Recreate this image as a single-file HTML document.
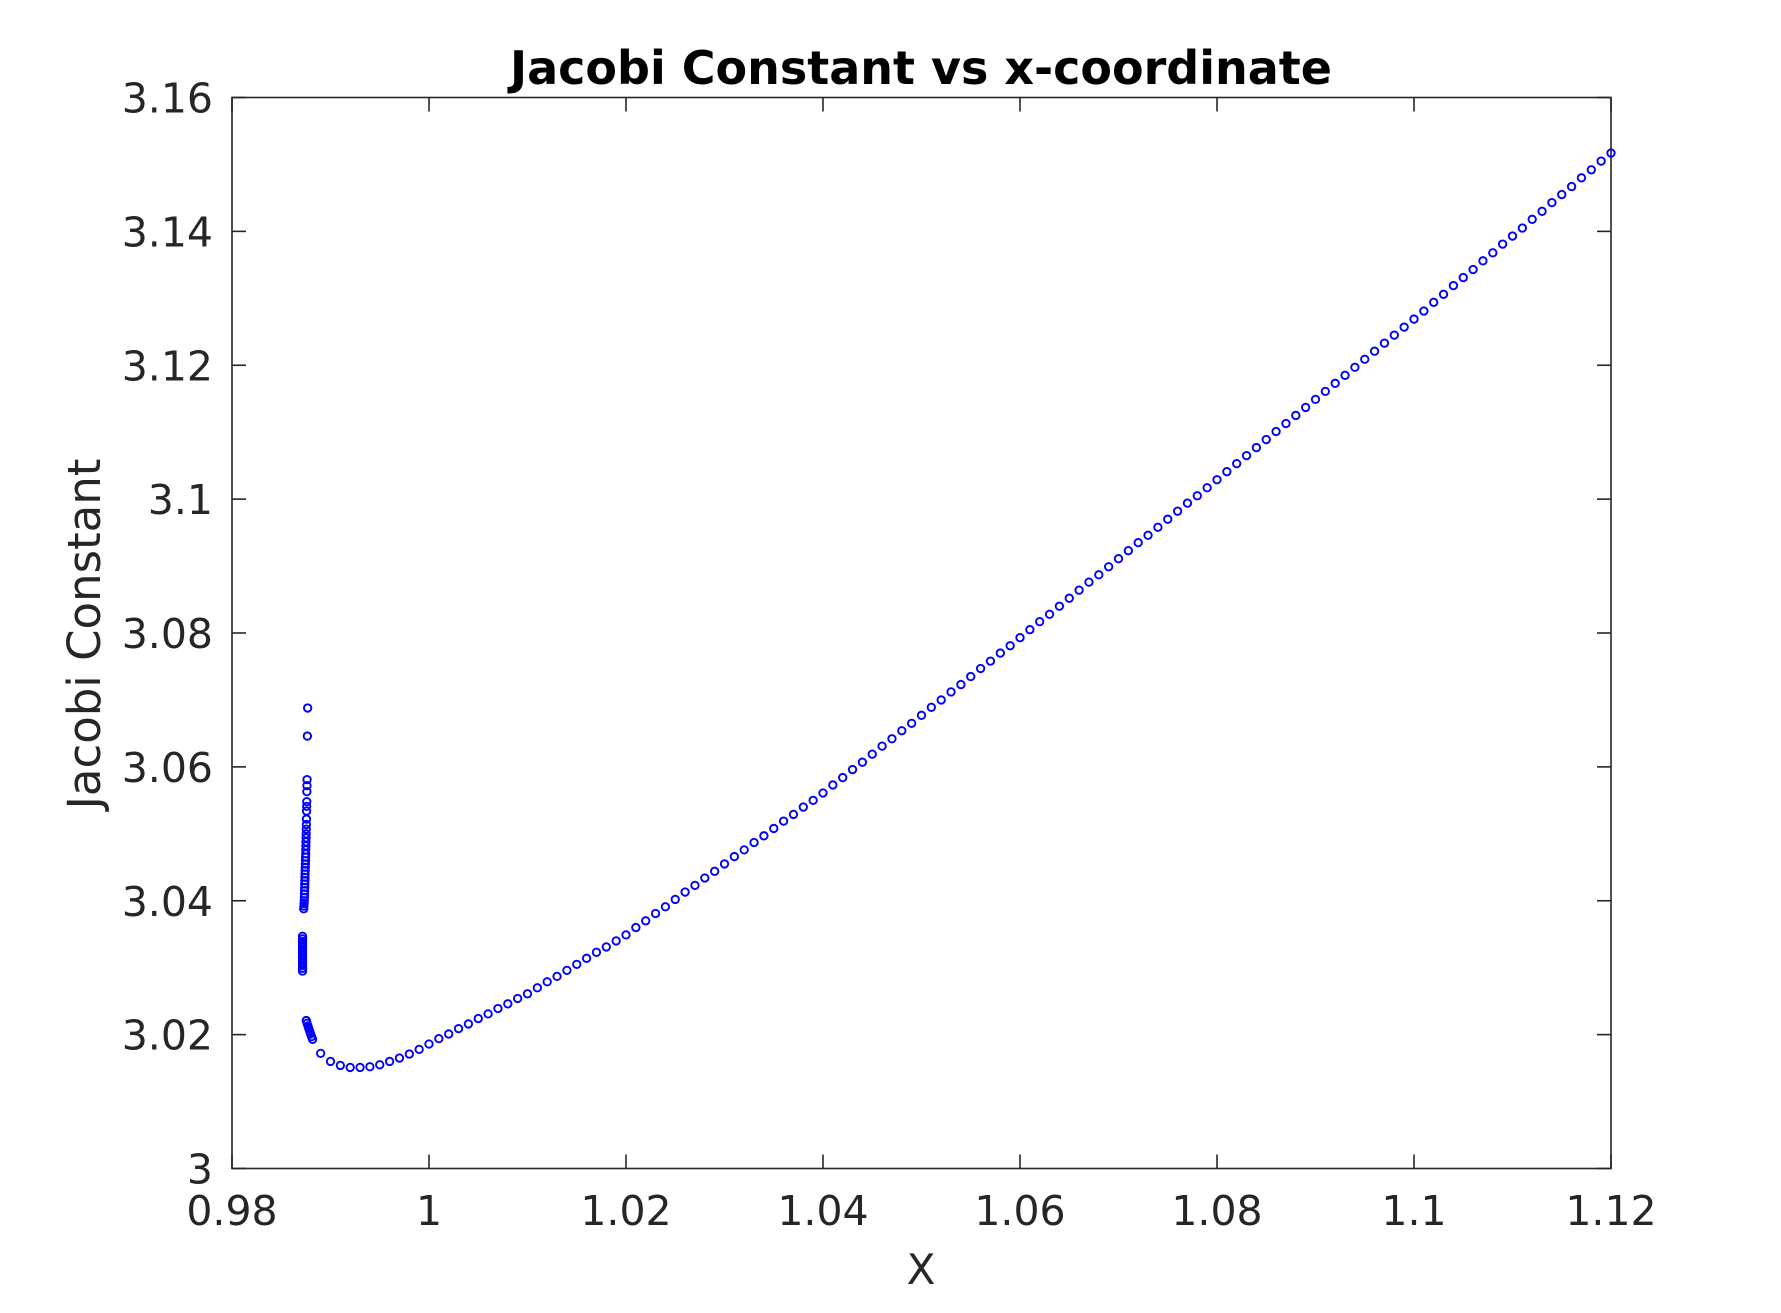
<!DOCTYPE html>
<html><head><meta charset="utf-8"><style>
html,body{margin:0;padding:0;background:#fff;}
svg{display:block;font-family:"DejaVu Sans","Liberation Sans",sans-serif;}
</style></head><body>
<svg id="chart" width="1781" height="1313" viewBox="0 0 1781 1313" xmlns="http://www.w3.org/2000/svg">
<rect width="1781" height="1313" fill="#fff"/>
<text x="921" y="84" text-anchor="middle" font-size="46" font-weight="bold" fill="#000">Jacobi Constant vs x-coordinate</text>
<text x="921" y="1284" text-anchor="middle" font-size="42" fill="#262626">X</text>
<text transform="translate(100,634) rotate(-90)" text-anchor="middle" font-size="45" fill="#262626">Jacobi Constant</text>
<g id="axes"></g>
<g id="marks"></g>
</svg>
<script>
const xTicks = [0.98, 1.0, 1.02, 1.04, 1.06, 1.08, 1.1, 1.12];
const xTickLabels = ["0.98", "1", "1.02", "1.04", "1.06", "1.08", "1.1", "1.12"];
const yTicks = [3.0, 3.02, 3.04, 3.06, 3.08, 3.1, 3.12, 3.14, 3.16];
const yTickLabels = ["3", "3.02", "3.04", "3.06", "3.08", "3.1", "3.12", "3.14", "3.16"];

const clusterX = [0.98768,0.98765,
0.98762,0.98761,0.98760,0.98759,0.98758,0.98757,0.98756,0.98755,0.98754,0.98753,0.98752,0.98751,0.98750,0.98749,0.98748,0.98747,0.98746,0.98745,0.98744,0.98743,0.98742,0.98741,0.98740,0.98739,0.98738,0.98737,0.98736,0.98735,0.98734,0.98732,0.98730,0.98728,
0.98716,0.98716,0.98716,0.98716,0.98716,0.98716,0.98716,0.98716,0.98716,0.98716,0.98716,0.98716,0.98716,0.98716,
0.98754,0.98762,0.98771,0.98780,0.98789,0.98798,0.98808,0.98818];
const clusterY = [3.0688,3.0646,
3.0581,3.0572,3.0563,3.0548,3.0541,3.0534,3.0522,3.0514,3.0507,3.0500,3.0494,3.0488,3.0482,3.0476,3.0470,3.0465,3.0460,3.0455,3.0450,3.0445,3.0440,3.0435,3.0430,3.0425,3.0420,3.0415,3.0410,3.0405,3.0400,3.0396,3.0392,3.0388,
3.0347,3.0343,3.0339,3.0335,3.0331,3.0327,3.0323,3.0319,3.0315,3.0311,3.0307,3.0303,3.0299,3.0295,
3.0221,3.0217,3.0213,3.0209,3.0205,3.0201,3.0197,3.0193];

const branchX = [0.989,0.990,0.991,0.992,0.993,0.994,0.995,0.996,0.997,0.998,0.999,
1.000,1.001,1.002,1.003,1.004,1.005,1.006,1.007,1.008,1.009,
1.010,1.011,1.012,1.013,1.014,1.015,1.016,1.017,1.018,1.019,
1.020,1.021,1.022,1.023,1.024,1.025,1.026,1.027,1.028,1.029,
1.030,1.031,1.032,1.033,1.034,1.035,1.036,1.037,1.038,1.039,
1.040,1.041,1.042,1.043,1.044,1.045,1.046,1.047,1.048,1.049,
1.050,1.051,1.052,1.053,1.054,1.055,1.056,1.057,1.058,1.059,
1.060,1.061,1.062,1.063,1.064,1.065,1.066,1.067,1.068,1.069,
1.070,1.071,1.072,1.073,1.074,1.075,1.076,1.077,1.078,1.079,
1.080,1.081,1.082,1.083,1.084,1.085,1.086,1.087,1.088,1.089,
1.090,1.091,1.092,1.093,1.094,1.095,1.096,1.097,1.098,1.099,
1.100,1.101,1.102,1.103,1.104,1.105,1.106,1.107,1.108,1.109,
1.110,1.111,1.112,1.113,1.114,1.115,1.116,1.117,1.118,1.119,1.120];
const branchY = [3.0172,3.0160,3.0154,3.0151,3.0151,3.0152,3.0155,3.0160,3.0165,3.0171,3.0178,
3.0186,3.0194,3.0201,3.0209,3.0216,3.0224,3.0231,3.0239,3.0246,3.0254,
3.0261,3.0270,3.0279,3.0287,3.0296,3.0305,3.0314,3.0323,3.0331,3.0340,
3.0349,3.0360,3.0370,3.0381,3.0391,3.0402,3.0413,3.0423,3.0434,3.0444,
3.0455,3.0466,3.0476,3.0487,3.0497,3.0508,3.0519,3.0529,3.0540,3.0550,
3.0561,3.0573,3.0584,3.0596,3.0607,3.0619,3.0631,3.0642,3.0654,3.0665,
3.0677,3.0689,3.0700,3.0712,3.0723,3.0735,3.0747,3.0758,3.0770,3.0781,
3.0793,3.0805,3.0817,3.0828,3.0840,3.0852,3.0864,3.0876,3.0887,3.0899,
3.0911,3.0923,3.0935,3.0946,3.0958,3.0970,3.0982,3.0994,3.1005,3.1017,
3.1029,3.1041,3.1053,3.1065,3.1077,3.1089,3.1101,3.1113,3.1125,3.1137,
3.1149,3.1161,3.1173,3.1185,3.1197,3.1209,3.1221,3.1233,3.1245,3.1257,
3.1269,3.1281,3.1294,3.1306,3.1319,3.1331,3.1343,3.1356,3.1368,3.1381,
3.1393,3.1405,3.1418,3.1430,3.1443,3.1455,3.1467,3.1480,3.1492,3.1505,3.1517];

const NS = "http://www.w3.org/2000/svg";
const L = 232, R = 1611, T = 97.5, B = 1168.5;
const xMin = 0.98, xMax = 1.12, yMin = 3.0, yMax = 3.16;
function sx(v){ return L + (v - xMin) / (xMax - xMin) * (R - L); }
function sy(v){ return B - (v - yMin) / (yMax - yMin) * (B - T); }
function mk(tag, attrs){ const e = document.createElementNS(NS, tag); for (const k in attrs) e.setAttribute(k, attrs[k]); return e; }

const axes = document.getElementById('axes');
const box = mk('rect', {x:L, y:T, width:R-L, height:B-T, fill:'none', stroke:'#262626', 'stroke-width':1.6});


axes.appendChild(box);

xTicks.forEach((v, i) => {
  const x = sx(v);
  const t1 = mk('line', {x1:x, x2:x, y1:B, y2:B-14, stroke:'#262626', 'stroke-width':1.6});
  
  
  axes.appendChild(t1);
  const t2 = mk('line', {x1:x, x2:x, y1:T, y2:T+14, stroke:'#262626', 'stroke-width':1.6});
  
  
  axes.appendChild(t2);
  const lb = mk('text', {x:x, y:1225, 'text-anchor':'middle', 'font-size':41, fill:'#262626'});
  lb.textContent = xTickLabels[i];
  
  
  axes.appendChild(lb);
});
yTicks.forEach((v, i) => {
  const y = sy(v);
  const t1 = mk('line', {x1:L, x2:L+14, y1:y, y2:y, stroke:'#262626', 'stroke-width':1.6});
  
  
  axes.appendChild(t1);
  const t2 = mk('line', {x1:R, x2:R-14, y1:y, y2:y, stroke:'#262626', 'stroke-width':1.6});
  
  
  axes.appendChild(t2);
  const lb = mk('text', {x:213, y:y+15, 'text-anchor':'end', 'font-size':41, fill:'#262626'});
  lb.textContent = yTickLabels[i];
  
  
  axes.appendChild(lb);
});

const marks = document.getElementById('marks');
function drawPts(xs, ys){
  xs.forEach((v, i) => {
    const c = mk('circle', {cx:sx(v), cy:sy(ys[i]), r:3.7, fill:'none', stroke:'#0000ff', 'stroke-width':1.9});
    
    
    marks.appendChild(c);
  });
}
drawPts(clusterX, clusterY);
drawPts(branchX, branchY);
</script>
</body></html>
